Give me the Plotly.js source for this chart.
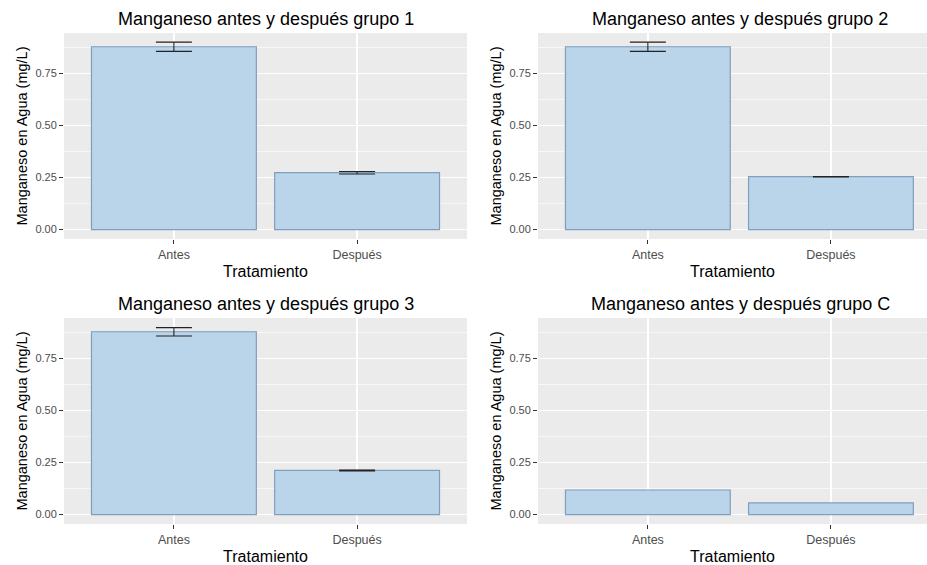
<!DOCTYPE html>
<html>
<head>
<meta charset="utf-8">
<script src="https://cdn.plot.ly/plotly-3.0.1.min.js"></script>
<style>html,body{margin:0;padding:0;background:#fff;} #chart{width:927px;height:565px;}</style>
</head>
<body>
<div id="chart"></div>
<script>
const categories = ["Antes", "Después"];
const grupo1 = [0.877, 0.273];
const err1 = [0.022, 0.006];
const grupo2 = [0.877, 0.254];
const err2 = [0.022, 0.001];
const grupo3 = [0.877, 0.212];
const err3 = [0.020, 0.002];
const grupoC = [0.118, 0.056];
const titles = [
  "Manganeso antes y después grupo 1",
  "Manganeso antes y después grupo 2",
  "Manganeso antes y después grupo 3",
  "Manganeso antes y después grupo C"
];
const yTicks = [0, 0.25, 0.5, 0.75];
const yTickText = ["0.00", "0.25", "0.50", "0.75"];

const W = 927, H = 565;
const FONT = '"Liberation Sans", Arial, sans-serif';
const fillColor = 'rgb(186,212,234)';
const lineColor = 'rgb(128,158,190)';

function barTrace(vals, errs, ax) {
  const t = {
    type: 'bar', x: categories, y: vals, width: 0.9,
    marker: {color: fillColor, line: {color: lineColor, width: 1.2}},
    xaxis: 'x' + ax, yaxis: 'y' + ax, showlegend: false, hoverinfo: 'x+y'
  };
  if (errs) {
    t.error_y = {type: 'data', array: errs, visible: true, color: '#222', thickness: 1.1, width: 18};
  }
  return t;
}

const data = [
  barTrace(grupo1, err1, ''),
  barTrace(grupo2, err2, '2'),
  barTrace(grupo3, err3, '3'),
  barTrace(grupoC, null, '4')
];

const leftDom = [64 / W, 467 / W];
const rightDom = [538 / W, 1];
const topDom = [1 - 239 / H, 1 - 33 / H];
const botDom = [1 - 524 / H, 1 - 318 / H];
const leftRange = [-0.6, 1.6];
const rightRange = [-0.6, (927 - 648) / 183];
const yRange = [-0.045, 0.943];

function xAxis(dom, range, anchor) {
  return {
    domain: dom, range: range, anchor: anchor, type: 'category',
    showgrid: true, gridcolor: '#FFFFFF', gridwidth: 1.3,
    ticks: 'outside', ticklen: 4, tickcolor: '#333333', tickwidth: 1,
    tickfont: {family: FONT, size: 12.5, color: '#4D4D4D'},
    showline: false, zeroline: false, fixedrange: true,
    title: {text: 'Tratamiento', font: {family: FONT, size: 16, color: '#000'}, standoff: 4}
  };
}
function yAxis(dom, anchor) {
  return {
    domain: dom, range: yRange, anchor: anchor,
    tickvals: yTicks, ticktext: yTickText,
    showgrid: true, gridcolor: '#FFFFFF', gridwidth: 1.3,
    minor: {showgrid: true, gridcolor: '#FFFFFF', gridwidth: 0.6, tickvals: [0.125, 0.375, 0.625, 0.875]},
    ticks: 'outside', ticklen: 4, tickcolor: '#333333', tickwidth: 1,
    tickfont: {family: FONT, size: 11, color: '#4D4D4D'},
    showline: false, zeroline: false, fixedrange: true,
    title: {text: 'Manganeso en Agua (mg/L)', font: {family: FONT, size: 14.5, color: '#000'}, standoff: 4}
  };
}

const layout = {
  width: W, height: H,
  margin: {l: 0, r: 0, t: 0, b: 0},
  paper_bgcolor: '#FFFFFF',
  plot_bgcolor: '#EBEBEB',
  font: {family: FONT},
  bargap: 0,
  xaxis: xAxis(leftDom, leftRange, 'y'),
  yaxis: yAxis(topDom, 'x'),
  xaxis2: xAxis(rightDom, rightRange, 'y2'),
  yaxis2: yAxis(topDom, 'x2'),
  xaxis3: xAxis(leftDom, leftRange, 'y3'),
  yaxis3: yAxis(botDom, 'x3'),
  xaxis4: xAxis(rightDom, rightRange, 'y4'),
  yaxis4: yAxis(botDom, 'x4'),
  annotations: [
    {text: titles[0], x: 266 / W, y: 1 - 19 / H},
    {text: titles[1], x: 740 / W, y: 1 - 19 / H},
    {text: titles[2], x: 266 / W, y: 1 - 304 / H},
    {text: titles[3], x: 740 / W, y: 1 - 304 / H}
  ].map(a => Object.assign(a, {
    xref: 'paper', yref: 'paper', xanchor: 'center', yanchor: 'middle',
    showarrow: false, font: {family: FONT, size: 18, color: '#000'}
  }))
};

Plotly.newPlot('chart', data, layout, {displayModeBar: false, staticPlot: true});
</script>
</body>
</html>
